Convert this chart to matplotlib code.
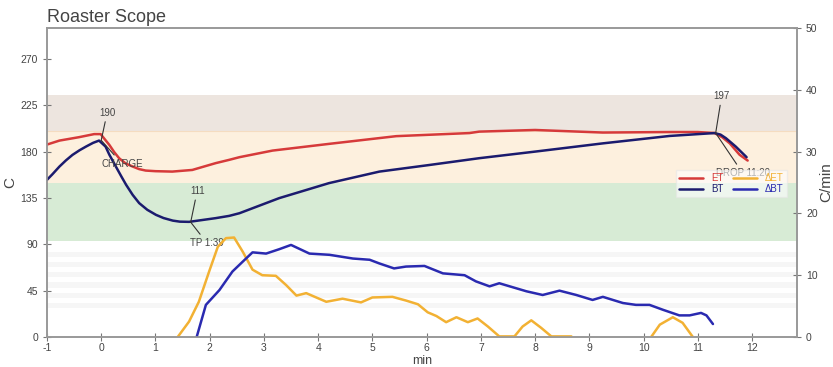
import numpy as np
import matplotlib
matplotlib.use("Agg")
from matplotlib import pyplot as plt

plt.rcParams["font.family"] = ["Liberation Sans", "DejaVu Sans"]
plt.rcParams["axes.unicode_minus"] = False

# ET / BT in C, time in min
et_t = [-1.02, -0.77, -0.41, -0.13, -0.01, 0.05, 0.15, 0.24, 0.33, 0.45, 0.58, 0.7, 0.82, 1.0,
        1.31, 1.68, 2.11, 2.36, 2.55, 3.16, 4.2, 5.44, 6.79, 6.97, 8.0, 9.25, 10.48, 11.0,
        11.31, 11.45, 11.59, 11.77, 11.92]
et_v = [186.5, 190.7, 194, 197, 197, 193, 186.5, 179.5, 173.6, 168.5, 165.5, 163, 161.6, 161,
        160.6, 162.2, 168.8, 172, 174.6, 181, 187.5, 195, 198, 199.4, 201, 198.5, 199, 199,
        198, 194, 188, 177, 171.3]

bt_t = [-1.0, -0.9, -0.77, -0.65, -0.53, -0.4, -0.28, -0.15, -0.04, 0.08, 0.15, 0.27, 0.37,
        0.46, 0.58, 0.7, 0.85, 1.01, 1.15, 1.32, 1.45, 1.62, 2.11, 2.36, 2.55, 3.28, 4.2,
        5.13, 6.05, 6.97, 8.0, 9.25, 10.48, 11.04, 11.31, 11.42, 11.52, 11.7, 11.9]
bt_v = [152.6, 158, 165.5, 171.5, 176.8, 181.3, 184.9, 188.5, 190.7, 184.9, 177, 165.5, 156,
        147.7, 138, 130, 123.5, 118.6, 115.5, 113, 112, 111.8, 115.4, 117.6, 120.2, 134.8,
        149.4, 160.6, 167, 173.6, 180, 188, 195.2, 197.1, 198, 196.5, 193, 184.9, 174.6]

# rate of rise, C/min
dbt_t = [1.76, 1.93, 2.18, 2.42, 2.61, 2.79, 3.04, 3.28, 3.5, 3.84, 4.21, 4.64, 4.95, 5.13,
         5.4, 5.62, 5.96, 6.3, 6.7, 6.91, 7.16, 7.34, 7.84, 8.14, 8.45, 8.76, 9.06, 9.25,
         9.62, 9.86, 10.11, 10.36, 10.66, 10.85, 11.06, 11.16, 11.28]
dbt_v = [0, 5.2, 7.6, 10.6, 12.2, 13.7, 13.5, 14.2, 14.9, 13.5, 13.3, 12.7, 12.5, 11.9,
         11.1, 11.4, 11.5, 10.3, 10.0, 9.0, 8.2, 8.7, 7.4, 6.8, 7.5, 6.8, 6.0, 6.5,
         5.5, 5.2, 5.2, 4.4, 3.5, 3.5, 3.9, 3.5, 2.1]

det_t = [1.41, 1.62, 1.8, 1.99, 2.15, 2.3, 2.45, 2.61, 2.79, 2.97, 3.22, 3.41, 3.6, 3.78,
         4.15, 4.45, 4.79, 5.0, 5.37, 5.62, 5.84, 6.02, 6.18, 6.36, 6.55, 6.76, 6.94, 7.13,
         7.34, 7.62, 7.77, 7.93, 8.11, 8.3, 8.67]
det_v = [0, 2.5, 5.7, 10.6, 14.6, 16.0, 16.1, 13.8, 10.9, 10.0, 9.9, 8.4, 6.7, 7.1,
         5.7, 6.2, 5.6, 6.4, 6.5, 5.9, 5.3, 4.0, 3.4, 2.4, 3.2, 2.4, 3.0, 1.7,
         0.1, 0.1, 1.7, 2.7, 1.5, 0.1, 0.1]
det2_t = [10.14, 10.3, 10.54, 10.72, 10.91]
det2_v = [0, 2.0, 3.2, 2.3, 0]

# events: point, value label + position, event label + position
events = [
    (0.0, 191, "190", (0.11, 213), "CHARGE", (0.0, 173)),
    (1.65, 111.5, "111", (1.77, 137), "TP 1:39", (1.64, 96)),
    (11.33, 198, "197", (11.44, 229), "DROP 11:20", (11.33, 164)),
]

C_ET = "#d63a3a"
C_BT = "#1b1b6e"
C_DET = "#f2b133"
C_DBT = "#2a2ab0"
GREY = "#999999"
TXT = "#444444"

fig = plt.figure(figsize=(8.33, 3.67), dpi=100)
ax = fig.add_axes([0.0564, 0.0817, 0.9004, 0.842])
ax2 = ax.twinx()

ax.set_xlim(-1, 12.83)
ax.set_ylim(0, 300)
ax2.set_ylim(0, 50)

# phase bands
ax.axhspan(200, 235, color="#ede5df", lw=0, zorder=0)
ax.axhspan(150, 200, color="#fdf0de", lw=0, zorder=0)
ax.axhline(200, color="#f5dcc0", lw=0.8, zorder=0)
ax.axhspan(93, 150, color="#d7ebd5", lw=0, zorder=0)
for lo in [28, 38, 48, 58, 68, 78]:
    ax.axhspan(lo, lo + 5, color="#f6f6f6", lw=0, zorder=0)

kw = dict(lw=1.8, solid_joinstyle="round", solid_capstyle="round")
ax.plot(et_t, et_v, color=C_ET, label="ET", zorder=3, **kw)
ax.plot(bt_t, bt_v, color=C_BT, label="BT", zorder=3, **kw)
l_det, = ax2.plot(det_t, det_v, color=C_DET, label="\u0394ET", **kw)
ax2.plot(det2_t, det2_v, color=C_DET, **kw)
l_dbt, = ax2.plot(dbt_t, dbt_v, color=C_DBT, label="\u0394BT", **kw)

for t, v, vlab, vpos, elab, epos in events:
    ax.annotate(vlab, xy=(t, v), xytext=vpos, fontsize=7, color=TXT, ha="center", va="bottom",
                arrowprops=dict(arrowstyle="-", color="#333333", lw=0.8, shrinkA=1, shrinkB=0),
                zorder=5)
    ax.annotate(elab, xy=(t, v), xytext=epos, fontsize=7, color=TXT, ha="left", va="top",
                arrowprops=dict(arrowstyle="-", color="#333333", lw=0.8, shrinkA=1, shrinkB=0),
                zorder=5)

h1, lab1 = ax.get_legend_handles_labels()
leg = ax2.legend(h1 + [l_det, l_dbt], lab1 + ["\u0394ET", "\u0394BT"], ncol=2, fontsize=7,
                 loc="upper right", bbox_to_anchor=(0.993, 0.555), frameon=True, framealpha=0.6,
                 edgecolor="#e6e6e6", handlelength=2.5, borderpad=0.3, labelspacing=0.1,
                 columnspacing=1.0, fancybox=False)
for txt, c in zip(leg.get_texts(), [C_ET, C_BT, C_DET, C_DBT]):
    txt.set_color(c)

ax.set_xticks(range(-1, 13))
ax.set_yticks(range(0, 271, 45))
ax2.set_yticks(range(0, 51, 10))
for a in (ax, ax2):
    for s in a.spines.values():
        s.set_color(GREY)
        s.set_linewidth(1.2)
    a.tick_params(direction="inout", length=6, color="#777777", labelsize=7.5, labelcolor=TXT)
ax.tick_params(axis="x", pad=1)

ax.set_xlabel("min", fontsize=9, color=TXT, labelpad=2)
ax.set_ylabel("C", fontsize=11, color=TXT, labelpad=2)
ax2.set_ylabel("C/min", fontsize=11, color=TXT, labelpad=1)
ax.set_title("Roaster Scope", fontsize=13, color=TXT, loc="left", pad=4)

fig.savefig("out.png", dpi=100)
